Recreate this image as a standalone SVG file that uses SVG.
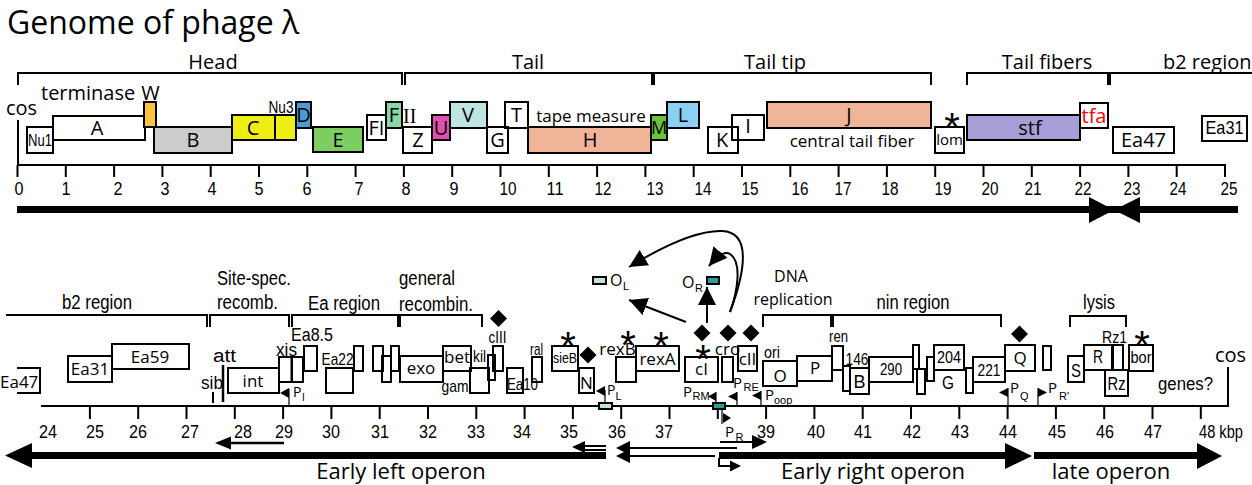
<svg xmlns="http://www.w3.org/2000/svg" width="1252" height="485" viewBox="0 0 1252 485">
<style>
.os{font-family:"Open Sans","Liberation Sans",sans-serif;fill:#000}
.nw{font-family:"Liberation Sans",Arial,sans-serif;fill:#000}
.sf{font-family:"Liberation Serif",serif;fill:#000}
.ast{font-family:"Liberation Sans",sans-serif;font-size:40px;text-anchor:middle}
.b{fill:none;stroke:#000;stroke-width:2}
.ln{fill:none;stroke:#000;stroke-width:2}
.th{fill:none;stroke:#000;stroke-width:1.2}
.m{text-anchor:middle}
.t20{font-size:20px}
.t17{font-size:17px}
.t18{font-size:18px}
.t16{font-size:16px}
.sub{font-size:11px}
.dm{fill:#000}
</style>
<defs>
<marker id="ah" markerUnits="userSpaceOnUse" markerWidth="20" markerHeight="18" refX="18" refY="9" orient="auto"><path d="M0,0 L18,9 L0,18 z" fill="#000"/></marker>
</defs>

<text class="os" x="7" y="34" font-size="32">Genome of phage λ</text>

<!-- top brackets -->
<g id="top-brackets">
<path class="ln" d="M18,85 V73 H402 V85"/>
<text class="os t20 m" x="213" y="69">Head</text>
<path class="ln" d="M405,85 V73 H652 V85"/>
<text class="os t20 m" x="528" y="69">Tail</text>
<path class="ln" d="M654,85 V73 H931 V85"/>
<text class="os t20 m" x="775" y="69">Tail tip</text>
<path class="ln" d="M967,85 V73 H1108 V85"/>
<text class="os t20 m" x="1047" y="69">Tail fibers</text>
<path class="ln" d="M1110,85 V73 H1252"/>
<text class="os t20" x="1163" y="69">b2 region</text>
</g>

<!-- top axis -->
<g id="top-axis">
<text class="os t20" x="6" y="115">cos</text>
<path class="ln" d="M18,120 V165 H1226"/>
<path class="ln" d="M17.5,165V177M65.8,165V177M114.1,165V177M162.4,165V177M210.7,165V177M259,165V177M307.3,165V177M355.6,165V177M403.9,165V177M452.2,165V177M500.5,165V177M548.8,165V177M597.1,165V177M645.4,165V177M693.7,165V177M742,165V177M790.3,165V177M838.6,165V177M886.9,165V177M935.2,165V177M983.5,165V177M1031.8,165V177M1080.1,165V177M1128.4,165V177M1176.7,165V177M1225,165V177"/>
<g class="nw t18 m">
<text x="19" y="195" textLength="9" lengthAdjust="spacingAndGlyphs">0</text><text x="66" y="195" textLength="9" lengthAdjust="spacingAndGlyphs">1</text><text x="118" y="195" textLength="9" lengthAdjust="spacingAndGlyphs">2</text><text x="165" y="195" textLength="9" lengthAdjust="spacingAndGlyphs">3</text><text x="212" y="195" textLength="9" lengthAdjust="spacingAndGlyphs">4</text><text x="259" y="195" textLength="9" lengthAdjust="spacingAndGlyphs">5</text><text x="307" y="195" textLength="9" lengthAdjust="spacingAndGlyphs">6</text><text x="359" y="195" textLength="9" lengthAdjust="spacingAndGlyphs">7</text><text x="406" y="195" textLength="9" lengthAdjust="spacingAndGlyphs">8</text><text x="454" y="195" textLength="9" lengthAdjust="spacingAndGlyphs">9</text>
<text x="508" y="195" textLength="17" lengthAdjust="spacingAndGlyphs">10</text><text x="555" y="195" textLength="17" lengthAdjust="spacingAndGlyphs">11</text><text x="603" y="195" textLength="17" lengthAdjust="spacingAndGlyphs">12</text><text x="655" y="195" textLength="17" lengthAdjust="spacingAndGlyphs">13</text><text x="703" y="195" textLength="17" lengthAdjust="spacingAndGlyphs">14</text><text x="750" y="195" textLength="17" lengthAdjust="spacingAndGlyphs">15</text><text x="800" y="195" textLength="17" lengthAdjust="spacingAndGlyphs">16</text><text x="843" y="195" textLength="17" lengthAdjust="spacingAndGlyphs">17</text><text x="890" y="195" textLength="17" lengthAdjust="spacingAndGlyphs">18</text><text x="943" y="195" textLength="17" lengthAdjust="spacingAndGlyphs">19</text><text x="990" y="195" textLength="17" lengthAdjust="spacingAndGlyphs">20</text><text x="1033" y="195" textLength="17" lengthAdjust="spacingAndGlyphs">21</text><text x="1083" y="195" textLength="17" lengthAdjust="spacingAndGlyphs">22</text><text x="1132" y="195" textLength="17" lengthAdjust="spacingAndGlyphs">23</text><text x="1178" y="195" textLength="17" lengthAdjust="spacingAndGlyphs">24</text><text x="1229" y="195" textLength="17" lengthAdjust="spacingAndGlyphs">25</text>
</g>
<path d="M17,209.5 H1238" stroke="#000" stroke-width="7"/>
<polygon points="1089,197 1089,223 1114,210" fill="#000"/>
<polygon points="1140,197 1140,223 1114,210" fill="#000"/>
</g>

<!-- top genes -->
<text class="os t20" x="41" y="100">terminase</text>
<g id="Nu1"><rect class="b" x="27" y="127" width="26" height="26"/><text class="nw t16 m" x="40" y="146" textLength="24" lengthAdjust="spacingAndGlyphs">Nu1</text></g>
<g id="A"><rect class="b" x="53" y="116" width="92" height="24"/><text class="os t20 m" x="97" y="135">A</text></g>
<g id="W"><rect x="144" y="102" width="12" height="25" fill="#fcc43a" stroke="#000" stroke-width="2"/><text class="os t20 m" x="150.5" y="100">W</text></g>
<g id="B"><rect x="154" y="127" width="78" height="26" fill="#cccccc" stroke="#000" stroke-width="2"/><text class="os t20 m" x="193" y="147">B</text></g>
<g id="C"><rect x="232" y="115" width="64" height="25" fill="#eeee14" stroke="#000" stroke-width="2"/><path class="ln" d="M275,115V140"/><text class="os t20 m" x="253" y="135">C</text></g>
<g id="Nu3"><text class="nw t16 m" x="281" y="113" textLength="25" lengthAdjust="spacingAndGlyphs">Nu3</text></g>
<g id="D"><rect x="296" y="102" width="15" height="26" fill="#4a9cd6" stroke="#000" stroke-width="2"/><text class="os t20 m" x="303.5" y="122">D</text></g>
<g id="E"><rect x="313" y="127" width="50" height="25" fill="#7ccd62" stroke="#000" stroke-width="2"/><text class="os t20 m" x="338" y="147">E</text></g>
<g id="FI"><rect class="b" x="367" y="115" width="19" height="25"/><text class="os t20 m" x="376.5" y="135">FI</text></g>
<g id="F"><rect x="386" y="102" width="16" height="26" fill="#88d8a8" stroke="#000" stroke-width="2"/><text class="os t20 m" x="394" y="122">F</text></g>
<g id="FII"><text class="sf t20" x="403" y="123">II</text></g>
<g id="Z"><rect class="b" x="403" y="127" width="29" height="26"/><text class="os t20 m" x="418" y="147">Z</text></g>
<g id="U"><rect x="432" y="115" width="18" height="25" fill="#e050b0" stroke="#000" stroke-width="2"/><text class="os t20 m" x="441" y="135">U</text></g>
<g id="V"><rect x="450" y="102" width="37" height="26" fill="#bee6e0" stroke="#000" stroke-width="2"/><text class="os t20 m" x="468" y="122">V</text></g>
<g id="G"><rect class="b" x="487" y="127" width="21" height="26"/><text class="os t20 m" x="497.5" y="147">G</text></g>
<g id="T"><rect class="b" x="505" y="102" width="23" height="26"/><text class="os t20 m" x="516.5" y="122">T</text></g>
<g id="H"><text class="os t17 m" x="591" y="122">tape measure</text><rect x="528" y="127" width="123" height="26" fill="#f0b498" stroke="#000" stroke-width="2"/><text class="os t20 m" x="590" y="147">H</text></g>
<g id="M"><rect x="651" y="115" width="16" height="25" fill="#6cc23a" stroke="#000" stroke-width="2"/><text class="os m" font-size="18" x="659" y="134">M</text></g>
<g id="L"><rect x="667" y="102" width="32" height="26" fill="#8ad0f2" stroke="#000" stroke-width="2"/><text class="os t20 m" x="683" y="122">L</text></g>
<g id="K"><rect class="b" x="708" y="127" width="30" height="26"/><text class="os t20 m" x="722" y="147">K</text></g>
<g id="I"><rect class="b" x="732" y="115" width="32" height="25"/><text class="os t20 m" x="748" y="133">I</text></g>
<g id="J"><rect x="767" y="102" width="164" height="26" fill="#f0b498" stroke="#000" stroke-width="2"/><text class="os t20 m" x="849" y="122">J</text><text class="os t17 m" x="852" y="147">central tail fiber</text></g>
<g id="lom"><text class="ast" x="952" y="141">*</text><rect class="b" x="935" y="127" width="29" height="26"/><text class="os m" font-size="15" x="949.5" y="145">lom</text></g>
<g id="stf"><rect x="967" y="115" width="113" height="25" fill="#a89fd8" stroke="#000" stroke-width="2"/><text class="os t20 m" x="1030" y="135">stf</text></g>
<g id="tfa"><rect class="b" x="1080" y="103" width="28" height="25"/><text class="os t20 m" x="1094" y="123" style="fill:#ff0000">tfa</text></g>
<g id="Ea47-top"><rect class="b" x="1113" y="127" width="61" height="26"/><text class="os t20 m" x="1143.5" y="147">Ea47</text></g>
<g id="Ea31-top"><rect class="b" x="1202" y="116" width="45" height="25"/><text class="nw t18 m" x="1224.5" y="134" textLength="38" lengthAdjust="spacingAndGlyphs">Ea31</text></g>

<!-- bottom brackets -->
<g id="bottom-brackets">
<path class="ln" d="M6,315 H207 V327"/>
<text class="nw t20 m" x="97" y="309" textLength="70" lengthAdjust="spacingAndGlyphs">b2 region</text>
<path class="ln" d="M210,327 V315 H289 V327"/>
<text class="nw t20" x="217" y="285" textLength="74" lengthAdjust="spacingAndGlyphs">Site-spec.</text>
<text class="nw t20" x="217" y="309" textLength="61" lengthAdjust="spacingAndGlyphs">recomb.</text>
<path class="ln" d="M292,327 V315 H398 V327"/>
<text class="nw t20 m" x="344" y="310" textLength="72" lengthAdjust="spacingAndGlyphs">Ea region</text>
<path class="ln" d="M400,327 V315 H482 V327"/>
<text class="nw t20" x="399" y="285" textLength="56" lengthAdjust="spacingAndGlyphs">general</text>
<text class="nw t20" x="399" y="311" textLength="74" lengthAdjust="spacingAndGlyphs">recombin.</text>
<path class="ln" d="M763,327 V315 H831 V327"/>
<text class="os t16 m" x="791" y="282">DNA</text>
<text class="os t16 m" x="793" y="305">replication</text>
<path class="ln" d="M833,327 V315 H1001 V327"/>
<text class="nw t20 m" x="913" y="309" textLength="73" lengthAdjust="spacingAndGlyphs">nin region</text>
<path class="ln" d="M1070,327 V316 H1126 V327"/>
<text class="nw t20 m" x="1099" y="309" textLength="32" lengthAdjust="spacingAndGlyphs">lysis</text>
</g>

<!-- bottom axis -->
<g id="bottom-axis">
<path class="ln" d="M41,406 H1228 V367"/>
<text class="os t20" x="1215" y="362">cos</text>
<path class="ln" d="M89.9,406V419M138.2,406V419M186.5,406V419M234.8,406V419M283.1,406V419M331.4,406V419M379.7,406V419M428,406V419M476.3,406V419M524.6,406V419M572.9,406V419M621.2,406V419M669.5,406V419M717.8,406V419M766.1,406V419M814.4,406V419M862.7,406V419M911,406V419M959.3,406V419M1007.6,406V419M1055.9,406V419M1104.2,406V419M1152.5,406V419M1200.8,406V419"/>
<g class="nw t18 m">
<text x="48" y="438" textLength="18" lengthAdjust="spacingAndGlyphs">24</text><text x="95" y="438" textLength="18" lengthAdjust="spacingAndGlyphs">25</text><text x="138" y="438" textLength="18" lengthAdjust="spacingAndGlyphs">26</text><text x="190" y="438" textLength="18" lengthAdjust="spacingAndGlyphs">27</text><text x="243" y="438" textLength="18" lengthAdjust="spacingAndGlyphs">28</text><text x="284" y="438" textLength="18" lengthAdjust="spacingAndGlyphs">29</text><text x="331" y="438" textLength="18" lengthAdjust="spacingAndGlyphs">30</text><text x="380" y="438" textLength="18" lengthAdjust="spacingAndGlyphs">31</text><text x="428" y="438" textLength="18" lengthAdjust="spacingAndGlyphs">32</text><text x="476" y="438" textLength="18" lengthAdjust="spacingAndGlyphs">33</text><text x="522" y="438" textLength="18" lengthAdjust="spacingAndGlyphs">34</text><text x="569" y="438" textLength="18" lengthAdjust="spacingAndGlyphs">35</text><text x="617" y="438" textLength="18" lengthAdjust="spacingAndGlyphs">36</text><text x="664" y="438" textLength="18" lengthAdjust="spacingAndGlyphs">37</text><text x="766" y="438" textLength="18" lengthAdjust="spacingAndGlyphs">39</text><text x="816" y="438" textLength="18" lengthAdjust="spacingAndGlyphs">40</text><text x="863" y="438" textLength="18" lengthAdjust="spacingAndGlyphs">41</text><text x="912" y="438" textLength="18" lengthAdjust="spacingAndGlyphs">42</text><text x="960" y="438" textLength="18" lengthAdjust="spacingAndGlyphs">43</text><text x="1008" y="438" textLength="18" lengthAdjust="spacingAndGlyphs">44</text><text x="1057" y="438" textLength="18" lengthAdjust="spacingAndGlyphs">45</text><text x="1105" y="438" textLength="18" lengthAdjust="spacingAndGlyphs">46</text><text x="1153" y="438" textLength="18" lengthAdjust="spacingAndGlyphs">47</text>
</g>
<text class="nw t18" x="1199" y="438" textLength="44" lengthAdjust="spacingAndGlyphs">48 kbp</text>
</g>

<!-- bottom genes -->
<g id="Ea47"><path class="b" d="M17,368 H40 V393 H17"/><text class="os t17" x="0" y="388">Ea47</text></g>
<g id="Ea31"><rect class="b" x="68" y="356" width="44" height="26"/><text class="os t17 m" x="90" y="375">Ea31</text></g>
<g id="Ea59"><rect class="b" x="112" y="344" width="77" height="25"/><text class="os t17 m" x="150" y="363">Ea59</text></g>
<g id="sib"><path d="M213,392V403" stroke="#000" stroke-width="2"/><text class="nw t18 m" x="212" y="389" textLength="22" lengthAdjust="spacingAndGlyphs">sib</text></g>
<g id="att"><path d="M223,365V402" stroke="#000" stroke-width="2.5"/><text class="nw t18 m" x="224.5" y="362" textLength="23" lengthAdjust="spacingAndGlyphs">att</text></g>
<g id="int"><rect class="b" x="228" y="368" width="51" height="25"/><text class="os t17 m" x="253" y="387">int</text></g>
<g id="xis"><rect class="b" x="279" y="357" width="12.5" height="25"/><rect class="b" x="292" y="357" width="11" height="25"/><text class="nw t18 m" x="286.5" y="356" textLength="21" lengthAdjust="spacingAndGlyphs">xis</text></g>
<g id="Ea8.5"><rect class="b" x="304" y="346" width="13" height="25"/><text class="nw t18" x="291" y="341" textLength="42" lengthAdjust="spacingAndGlyphs">Ea8.5</text></g>
<g id="Ea22"><rect class="b" x="326" y="368" width="27" height="25"/><text class="nw t17 m" x="337.5" y="365" textLength="32" lengthAdjust="spacingAndGlyphs">Ea22</text></g>
<g id="orf-a"><rect class="b" x="354" y="346" width="9" height="25"/></g>
<g id="orf-b"><rect class="b" x="373" y="346" width="10" height="25"/><rect class="b" x="382" y="356" width="9" height="26"/><rect class="b" x="391" y="346" width="8" height="25"/></g>
<g id="exo"><rect class="b" x="400" y="356" width="43" height="26"/><text class="os t17 m" x="421" y="374">exo</text></g>
<g id="bet"><rect class="b" x="443" y="346" width="28" height="25"/><text class="os t17 m" x="457" y="363">bet</text></g>
<g id="gam"><rect class="b" x="470" y="368" width="19" height="25"/><text class="nw t17 m" x="455" y="392" textLength="27" lengthAdjust="spacingAndGlyphs">gam</text></g>
<g id="kil"><rect class="b" x="488" y="355" width="7" height="25"/><text class="nw t17 m" x="479.5" y="362" textLength="13" lengthAdjust="spacingAndGlyphs">kil</text></g>
<g id="cIII"><polygon class="dm" points="498.5,310 507,318.5 498.5,327 490,318.5"/><rect class="b" x="493" y="346" width="10" height="25"/><text class="nw t17 m" x="497.5" y="343" textLength="18" lengthAdjust="spacingAndGlyphs">cIII</text></g>
<g id="Ea10"><rect class="b" x="507" y="368" width="16" height="25"/><text class="nw t17 m" x="522.5" y="390" textLength="31" lengthAdjust="spacingAndGlyphs">Ea10</text></g>
<g id="ral"><rect class="b" x="532" y="357" width="10" height="25"/><text class="nw t17 m" x="536.5" y="355" textLength="13" lengthAdjust="spacingAndGlyphs">ral</text></g>
<g id="sieB"><text class="ast" x="568" y="360">*</text><rect class="b" x="552" y="346" width="26" height="25"/><text class="nw m" font-size="14" x="565" y="363" textLength="24" lengthAdjust="spacingAndGlyphs">sieB</text></g>
<g id="N"><polygon class="dm" points="588,346.5 596.5,355 588,363.5 579.5,355"/><rect class="b" x="579" y="368" width="15" height="25"/><text class="os t17 m" x="586.5" y="389">N</text></g>
<g id="rexB"><text class="ast" x="628" y="359">*</text><rect class="b" x="616" y="357" width="20" height="25"/><text class="os t17 m" x="617.5" y="355">rexB</text></g>
<g id="rexA"><text class="ast" x="661" y="360">*</text><rect class="b" x="636" y="346" width="43" height="25"/><text class="os t17 m" x="657.5" y="365">rexA</text></g>
<g id="cI"><polygon class="dm" points="702,324.5 710.5,333 702,341.5 693.5,333"/><text class="ast" x="703" y="373">*</text><rect class="b" x="685" y="357" width="33" height="25"/><text class="os t17 m" x="701.5" y="375">cI</text></g>
<g id="cro"><polygon class="dm" points="728,324.5 736.5,333 728,341.5 719.5,333"/><rect class="b" x="722" y="357" width="11" height="25"/><text class="os t17 m" x="727.5" y="355">cro</text></g>
<g id="cII"><polygon class="dm" points="751,324.5 759.5,333 751,341.5 742.5,333"/><rect class="b" x="738" y="346" width="19" height="25"/><text class="os t17 m" x="747.5" y="365">cII</text></g>
<g id="ori"><text class="nw t17 m" x="772" y="358" textLength="16" lengthAdjust="spacingAndGlyphs">ori</text></g>
<g id="O"><rect class="b" x="763" y="361" width="34" height="25"/><text class="os t17 m" x="780" y="382">O</text></g>
<g id="P"><rect class="b" x="797" y="356" width="35" height="25"/><text class="os t17 m" x="815" y="374">P</text></g>
<g id="ren"><rect class="b" x="832" y="346" width="11" height="24"/><text class="nw t17 m" x="838.5" y="342" textLength="19" lengthAdjust="spacingAndGlyphs">ren</text></g>
<g id="g146"><rect class="b" x="843" y="366" width="7" height="25"/><text class="nw t17 m" x="857" y="365" textLength="23" lengthAdjust="spacingAndGlyphs">146</text></g>
<g id="Bn"><rect class="b" x="850" y="368" width="19" height="26"/><text class="nw t18 m" x="859.5" y="388" textLength="12" lengthAdjust="spacingAndGlyphs">B</text></g>
<g id="g290"><rect class="b" x="869" y="357" width="44" height="25"/><text class="nw t17 m" x="891" y="375" textLength="22" lengthAdjust="spacingAndGlyphs">290</text></g>
<g id="orf-c"><rect class="b" x="913" y="345" width="6" height="24"/><rect class="b" x="917" y="369" width="8" height="25"/><rect class="b" x="927" y="357" width="7" height="24"/></g>
<g id="g204"><rect class="b" x="934" y="345" width="30" height="25"/><text class="nw t17 m" x="949" y="363" textLength="24" lengthAdjust="spacingAndGlyphs">204</text><text class="nw t18 m" x="948" y="389" textLength="12" lengthAdjust="spacingAndGlyphs">G</text></g>
<g id="orf-d"><rect class="b" x="966" y="368" width="7" height="25"/></g>
<g id="g221"><rect class="b" x="973" y="357" width="32" height="25"/><text class="nw t17 m" x="989" y="376" textLength="23" lengthAdjust="spacingAndGlyphs">221</text></g>
<g id="Q"><polygon class="dm" points="1019.5,325.5 1028,334 1019.5,342.5 1011,334"/><rect class="b" x="1005" y="345" width="30" height="26"/><text class="os t17 m" x="1020" y="364">Q</text></g>
<g id="orf-e"><rect class="b" x="1043" y="346" width="8" height="24"/></g>
<g id="S"><rect class="b" x="1068" y="356" width="16" height="26"/><text class="nw t18 m" x="1076" y="377" textLength="10" lengthAdjust="spacingAndGlyphs">S</text></g>
<g id="R"><rect class="b" x="1084" y="345" width="28" height="25"/><text class="nw t18 m" x="1098" y="363" textLength="10" lengthAdjust="spacingAndGlyphs">R</text></g>
<g id="Rz1"><rect class="b" x="1113" y="345" width="10" height="25"/><text class="nw t17 m" x="1114.5" y="343" textLength="25" lengthAdjust="spacingAndGlyphs">Rz1</text></g>
<g id="Rz"><rect class="b" x="1105" y="370" width="23" height="26"/><text class="nw t18 m" x="1116.5" y="390" textLength="18" lengthAdjust="spacingAndGlyphs">Rz</text></g>
<g id="bor"><text class="ast" x="1142" y="359">*</text><rect class="b" x="1129" y="345" width="24" height="26"/><text class="nw t16 m" x="1141" y="363" textLength="21" lengthAdjust="spacingAndGlyphs">bor</text></g>
<text class="nw t18 m" x="1185.5" y="390" textLength="55" lengthAdjust="spacingAndGlyphs">genes?</text>

<!-- promoters and operators -->
<g id="PI"><path class="th" d="M289,389V406"/><polygon points="289,388 289,398 280,393"/><text class="os" font-size="14" x="293" y="397">P</text><text class="nw" font-size="10" x="302" y="401">I</text></g>
<g id="PL"><path class="th" d="M605,390V403"/><polygon points="605,386 605,396 596,391"/><text class="os" font-size="14" x="607" y="395">P</text><text class="nw sub" x="615.5" y="400">L</text></g>
<g id="PRM"><path class="th" d="M716,392V403"/><polygon points="716,392 716,401 708,396.5"/><text class="os" font-size="15" x="683" y="397">P</text><text class="nw sub" x="692.5" y="400">RM</text></g>
<g id="PRE"><path class="th" d="M737,392V406"/><polygon points="737,392 737,401 728,396.5"/><text class="os" font-size="15" x="733" y="388">P</text><text class="nw sub" x="743.5" y="391">RE</text></g>
<g id="Poop"><path class="th" d="M761,391V406"/><polygon points="761,391 761,400 752,395.5"/><text class="os" font-size="15" x="765" y="400">P</text><text class="nw sub" x="774" y="404">oop</text></g>
<g id="PQ"><path class="th" d="M1008,388V406"/><polygon points="1008,388 1008,397 999,392.5"/><text class="os" font-size="15" x="1010" y="393">P</text><text class="nw sub" x="1020" y="400">Q</text></g>
<g id="PR2"><path class="th" d="M1038,388V406"/><polygon points="1038,388 1038,397 1047,392.5"/><text class="os" font-size="15" x="1048" y="393">P</text><text class="nw sub" x="1059" y="400">R'</text></g>
<g id="PR"><path class="th" d="M722,409V424"/><polygon points="723,413 723,423 731,418"/><text class="os" font-size="15" x="725" y="437">P</text><text class="nw sub" x="735.5" y="441">R</text></g>
<g id="OL-site"><rect x="599" y="403" width="13" height="6" fill="#bfe4df" stroke="#000" stroke-width="2"/></g>
<g id="OR-site"><rect x="713" y="403" width="12" height="6" fill="#2e9c98" stroke="#000" stroke-width="2"/></g>
<g id="OL"><rect x="593" y="277" width="13" height="7" fill="#bfe4df" stroke="#000" stroke-width="2"/><text class="os t16" x="610" y="286">O</text><text class="nw sub" x="623" y="290">L</text></g>
<g id="OR"><rect x="707" y="277" width="12" height="7" fill="#2e9c98" stroke="#000" stroke-width="2"/><text class="os t16" x="682" y="288">O</text><text class="nw sub" x="695" y="292">R</text></g>

<!-- connectors -->
<g id="connectors" fill="none" stroke="#000" stroke-width="2">
<path d="M686,322 L629,300" marker-end="url(#ah)"/>
<path d="M707,323 V287" marker-end="url(#ah)"/>
<path d="M730,312 C745,272 752,232 722,231 C695,230 660,248 629,267" marker-end="url(#ah)"/>
<path d="M730,312 C738,290 742,262 730,254 C725,251 718,255 709,266" marker-end="url(#ah)"/>
</g>

<!-- operons / transcripts -->
<g id="transcripts">
<path d="M32,455.5 H606" stroke="#000" stroke-width="7"/>
<polygon points="5,455.5 32,443 32,468"/>
<path d="M231,443 H284" stroke="#000" stroke-width="2.5"/>
<polygon points="215,443 231,436.5 231,449.5"/>
<path d="M584,446 H606 M584,450 H606" stroke="#000" stroke-width="1.8"/>
<polygon points="572,447 585,441 585,453"/>
<path d="M628,448 H737 M628,456 H715" stroke="#000" stroke-width="2"/>
<polygon points="616,448 630,441 630,455"/>
<polygon points="616,456 630,449 630,463"/>
<path d="M720,442 H753" stroke="#000" stroke-width="2"/>
<polygon points="767,442 752,435 752,449"/>
<path d="M719,455.5 H1006" stroke="#000" stroke-width="7"/>
<polygon points="1032,456 1005,443 1005,469"/>
<path d="M719,458 V466 H731" stroke="#000" stroke-width="2" fill="none"/>
<polygon points="741,466 730,460.5 730,471.5"/>
<path d="M1034,455.5 H1198" stroke="#000" stroke-width="7"/>
<polygon points="1222,456 1197,443 1197,469"/>
<text class="os m" font-size="22" x="401" y="479">Early left operon</text>
<text class="os m" font-size="22" x="873" y="479">Early right operon</text>
<text class="os m" font-size="22" x="1111" y="479">late operon</text>
</g>
</svg>
